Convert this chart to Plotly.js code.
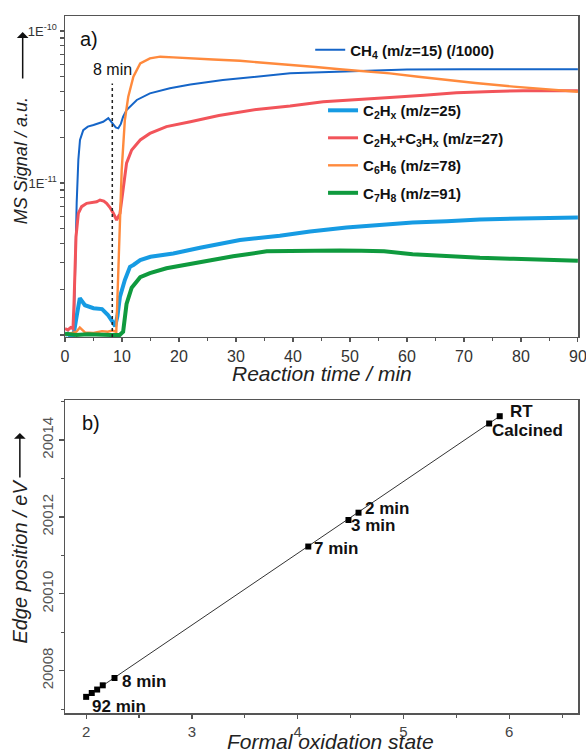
<!DOCTYPE html>
<html>
<head>
<meta charset="utf-8">
<script src="https://cdn.plot.ly/plotly-3.0.1.min.js"></script>
<style>html,body{margin:0;padding:0;background:#fff;}#chart{width:586px;height:751px;}</style>
</head>
<body>
<div id="chart"></div>
<script>
// ---------- Panel a) MS signals (values read off the picture) ----------
const ch4Time = [0, 1.0, 1.5, 1.75, 2.05, 2.34, 2.63, 3.2, 4.0, 5.0, 6.0, 6.7, 7.6, 8.3, 8.9, 9.35, 9.8, 10.2, 10.8, 12.6, 14.9, 18.4, 22, 27.7, 33, 39.5, 45, 50, 55, 60, 70, 80, 90];
const ch4Signal = [0.8e-12, 0.8e-12, 0.9e-12, 2.68e-12, 7.4e-12, 1.42e-11, 1.92e-11, 2.23e-11, 2.35e-11, 2.41e-11, 2.48e-11, 2.53e-11, 2.67e-11, 2.47e-11, 2.32e-11, 2.29e-11, 2.45e-11, 2.73e-11, 3.02e-11, 3.52e-11, 3.89e-11, 4.2e-11, 4.45e-11, 4.76e-11, 5.0e-11, 5.27e-11, 5.35e-11, 5.42e-11, 5.52e-11, 5.58e-11, 5.6e-11, 5.6e-11, 5.6e-11];

const c2Time = [0, 0.5, 1.0, 1.5, 2.0, 2.3, 2.6, 3.5, 5.0, 6.5, 7.5, 8.3, 8.8, 9.2, 9.65, 10.5, 11.4, 12.0, 13.2, 15.0, 19, 23.7, 30.7, 37.7, 43, 49.4, 55, 61, 67, 72.8, 80, 90];
const c2Signal = [1.0e-12, 1.02e-12, 0.98e-12, 1.0e-12, 1.3e-12, 1.6e-12, 1.75e-12, 1.57e-12, 1.5e-12, 1.48e-12, 1.36e-12, 1.23e-12, 1.14e-12, 1.33e-12, 1.79e-12, 2.3e-12, 2.81e-12, 2.89e-12, 3.11e-12, 3.27e-12, 3.44e-12, 3.75e-12, 4.22e-12, 4.5e-12, 4.8e-12, 5.1e-12, 5.3e-12, 5.5e-12, 5.6e-12, 5.75e-12, 5.85e-12, 5.92e-12];

const c23Time = [0, 0.5, 1.0, 1.4, 1.58, 1.93, 2.34, 2.92, 3.8, 4.8, 5.56, 6.14, 6.8, 7.3, 7.9, 8.48, 9.06, 9.65, 10.2, 10.8, 11.7, 13.2, 14.9, 17.8, 22, 27, 33.6, 39.5, 45.3, 51, 57, 63, 68.7, 75, 80.4, 90];
const c23Signal = [1.1e-12, 1.08e-12, 1.12e-12, 1.1e-12, 1.61e-12, 4.43e-12, 6.32e-12, 6.99e-12, 7.35e-12, 7.45e-12, 7.53e-12, 7.73e-12, 7.6e-12, 7.35e-12, 6.9e-12, 6.32e-12, 5.71e-12, 6.32e-12, 9.46e-12, 1.35e-11, 1.65e-11, 1.92e-11, 2.12e-11, 2.35e-11, 2.53e-11, 2.78e-11, 3.05e-11, 3.21e-11, 3.42e-11, 3.55e-11, 3.66e-11, 3.78e-11, 3.92e-11, 4.0e-11, 4.05e-11, 4.05e-11];

const c6Time = [0, 1, 2, 2.6, 3.5, 5, 6.5, 7.5, 8.3, 9.0, 9.5, 9.95, 10.5, 11.1, 12, 13.2, 14.9, 16.7, 19, 22, 26, 30.7, 35, 39.5, 44, 48.2, 52, 57, 62, 67, 72, 78.7, 84, 90];
const c6Signal = [1.0e-12, 1.02e-12, 1.05e-12, 1.12e-12, 1.04e-12, 1.03e-12, 1.06e-12, 1.05e-12, 1.07e-12, 1.05e-12, 3.44e-12, 1.22e-11, 2.59e-11, 3.7e-11, 5.0e-11, 6.12e-11, 6.61e-11, 6.78e-11, 6.71e-11, 6.6e-11, 6.5e-11, 6.37e-11, 6.2e-11, 5.96e-11, 5.8e-11, 5.6e-11, 5.45e-11, 5.27e-11, 5.0e-11, 4.76e-11, 4.55e-11, 4.31e-11, 4.15e-11, 3.99e-11];

const c7Time = [0, 2, 4, 6, 8, 9.6, 10.2, 10.8, 11.7, 13.2, 14.9, 17.8, 20, 23.7, 26, 29.5, 32, 35.4, 39.5, 44, 48.2, 52, 56, 61, 67, 72.8, 78.7, 84, 90];
const c7Signal = [1.02e-12, 1.0e-12, 1.01e-12, 1.0e-12, 1.0e-12, 1.0e-12, 1.05e-12, 1.6e-12, 2.05e-12, 2.4e-12, 2.55e-12, 2.75e-12, 2.85e-12, 3.0e-12, 3.1e-12, 3.3e-12, 3.4e-12, 3.55e-12, 3.57e-12, 3.6e-12, 3.6e-12, 3.58e-12, 3.55e-12, 3.4e-12, 3.3e-12, 3.22e-12, 3.17e-12, 3.12e-12, 3.08e-12];

const seriesNames = [
  'CH<sub>4</sub> (m/z=15) (/1000)',
  'C<sub>2</sub>H<sub>x</sub> (m/z=25)',
  'C<sub>2</sub>H<sub>x</sub>+C<sub>3</sub>H<sub>x</sub> (m/z=27)',
  'C<sub>6</sub>H<sub>6</sub> (m/z=78)',
  'C<sub>7</sub>H<sub>8</sub> (m/z=91)'
];
const markTime = 8.3;
const markLabel = '8 min';

// ---------- Panel b) edge position vs. oxidation state ----------
const oxState = [2.00, 2.053, 2.104, 2.157, 2.268, 4.10, 4.48, 4.575, 5.81, 5.91];
const edgePos = [20007.32, 20007.42, 20007.51, 20007.62, 20007.81, 20011.23, 20011.92, 20012.11, 20014.43, 20014.62];
const pointLabels = ['92 min', '', '', '', '8 min', '7 min', '3 min', '2 min', 'Calcined', 'RT'];
const fitX = [2.00, 5.91];
const fitY = [20007.32, 20014.62];

const majorLogVals = [1e-11, 1e-10];
const majorLogText = ['1E<sup>-11</sup>', '1E<sup>-10</sup>'];
const minorLogVals = [];
[-12, -11].forEach(function (e) {
  for (let m = 2; m <= 9; m++) minorLogVals.push(m * Math.pow(10, e));
});
minorLogVals.push(1e-12);

const FONT = 'Liberation Sans, Arial, sans-serif';
const AX = '#555';

const traces = [
  {x: ch4Time, y: ch4Signal, name: seriesNames[0], mode: 'lines', line: {color: '#1565c8', width: 2}, xaxis: 'x', yaxis: 'y', legend: 'legend'},
  {x: c2Time, y: c2Signal, name: seriesNames[1], mode: 'lines', line: {color: '#169be3', width: 4}, xaxis: 'x', yaxis: 'y', legend: 'legend2', legendgroup: 'g1'},
  {x: c23Time, y: c23Signal, name: seriesNames[2], mode: 'lines', line: {color: '#f2545a', width: 3}, xaxis: 'x', yaxis: 'y', legend: 'legend2', legendgroup: 'g2'},
  {x: c6Time, y: c6Signal, name: seriesNames[3], mode: 'lines', line: {color: '#ff8a3d', width: 2.4}, xaxis: 'x', yaxis: 'y', legend: 'legend2', legendgroup: 'g3'},
  {x: c7Time, y: c7Signal, name: seriesNames[4], mode: 'lines', line: {color: '#0f9a3e', width: 4}, xaxis: 'x', yaxis: 'y', legend: 'legend2', legendgroup: 'g4'},
  {x: fitX, y: fitY, mode: 'lines', line: {color: '#333', width: 1}, xaxis: 'x2', yaxis: 'y2', showlegend: false, hoverinfo: 'skip'},
  {x: oxState, y: edgePos, mode: 'markers', marker: {symbol: 'square', size: 6, color: '#000'}, xaxis: 'x2', yaxis: 'y2', showlegend: false}
];

const labelOffsets = {
  '92 min': {xs: 4, ys: -10},
  '8 min': {xs: 5, ys: -3},
  '7 min': {xs: 4, ys: -2},
  '3 min': {xs: 1, ys: -6},
  '2 min': {xs: 4, ys: 4},
  'Calcined': {xs: 1, ys: -7},
  'RT': {xs: 8, ys: 5}
};

const annotations = [
  {xref: 'paper', yref: 'paper', x: 0.025, y: 0.985, xanchor: 'left', yanchor: 'top', text: 'a)', showarrow: false, font: {family: FONT, size: 20, color: '#111'}},
  {xref: 'paper', yref: 'paper', x: 0.03, y: 0.435, xanchor: 'left', yanchor: 'top', text: 'b)', showarrow: false, font: {family: FONT, size: 20, color: '#111'}},
  {xref: 'x', yref: 'y domain', x: markTime, y: 0.80, xanchor: 'center', yanchor: 'bottom', text: markLabel, showarrow: false, font: {family: FONT, size: 16, color: '#111'}},
  {xref: 'paper', yref: 'paper', x: -0.086, y: 0.793, xanchor: 'center', yanchor: 'middle', textangle: -90, text: 'MS Signal / a.u.', showarrow: false, font: {family: FONT, size: 18, color: '#222', style: 'italic'}},
  {xref: 'paper', yref: 'paper', x: -0.0825, y: 0.977, ax: 0, ay: 48, axref: 'pixel', ayref: 'pixel', text: '', showarrow: true, arrowhead: 1, arrowsize: 1.3, arrowwidth: 1.5, arrowcolor: '#111'},
  {xref: 'paper', yref: 'paper', x: 0.5, y: 0.5065, xanchor: 'center', yanchor: 'top', text: 'Reaction time / min', showarrow: false, font: {family: FONT, size: 21, color: '#222', style: 'italic'}},
  {xref: 'paper', yref: 'paper', x: -0.088, y: 0.217, xanchor: 'center', yanchor: 'middle', textangle: -90, text: 'Edge position / eV', showarrow: false, font: {family: FONT, size: 20, color: '#222', style: 'italic'}},
  {xref: 'paper', yref: 'paper', x: -0.088, y: 0.4017, ax: 0, ay: 46, axref: 'pixel', ayref: 'pixel', text: '', showarrow: true, arrowhead: 1, arrowsize: 1.3, arrowwidth: 1.5, arrowcolor: '#111'},
  {xref: 'paper', yref: 'paper', x: 0.518, y: -0.0215, xanchor: 'center', yanchor: 'top', text: 'Formal oxidation state', showarrow: false, font: {family: FONT, size: 21, color: '#222', style: 'italic'}}
];
pointLabels.forEach(function (lab, i) {
  if (!lab) return;
  const o = labelOffsets[lab];
  annotations.push({xref: 'x2', yref: 'y2', x: oxState[i], y: edgePos[i], xanchor: 'left', yanchor: 'middle', xshift: o.xs, yshift: o.ys, text: '<b>' + lab + '</b>', showarrow: false, font: {family: FONT, size: 17, color: '#111'}});
});

const axisCommon = {
  showline: true, linecolor: AX, linewidth: 1.5, mirror: true,
  ticks: 'outside', ticklen: 5, tickwidth: 1.2, tickcolor: AX,
  showgrid: false, zeroline: false, ticklabeloverflow: 'allow',
  tickfont: {family: FONT, size: 16, color: '#333'}
};

const layout = {
  width: 586, height: 751,
  margin: {l: 65, r: 8, t: 16, b: 38},
  paper_bgcolor: '#fff', plot_bgcolor: '#fff',
  font: {family: FONT, color: '#222'},
  xaxis: Object.assign({}, axisCommon, {
    domain: [0, 1], anchor: 'y', range: [0, 90.02], dtick: 10, tick0: 0, ticklen: 4,
    minor: {dtick: 5, ticks: 'outside', ticklen: 3, tickcolor: AX, showgrid: false}
  }),
  yaxis: Object.assign({}, axisCommon, {
    domain: [0.5395, 1], anchor: 'x', type: 'log', range: [-12.013, -9.901],
    tickmode: 'array', tickvals: majorLogVals, ticktext: majorLogText, ticklen: 4,
    minor: {tickmode: 'array', tickvals: minorLogVals, ticks: 'outside', ticklen: 4, tickcolor: AX, showgrid: false},
    tickfont: {family: FONT, size: 13, color: '#333'}
  }),
  xaxis2: Object.assign({}, axisCommon, {
    domain: [0, 1], anchor: 'y2', range: [1.8, 6.65], dtick: 1, tick0: 0, ticklen: 4,
    minor: {dtick: 0.5, ticks: 'outside', ticklen: 3, tickcolor: AX, showgrid: false},
    tickfont: {family: FONT, size: 15, color: '#444'}
  }),
  yaxis2: Object.assign({}, axisCommon, {
    domain: [0, 0.449], anchor: 'x2', range: [20006.9, 20015.04], dtick: 2, tick0: 20008,
    tickformat: 'd', tickangle: -90,
    minor: {dtick: 1, ticks: 'outside', ticklen: 3, tickcolor: AX, showgrid: false},
    tickfont: {family: FONT, size: 15, color: '#555'}
  }),
  legend: {x: 0.478, y: 0.975, xanchor: 'left', yanchor: 'top', bgcolor: 'rgba(0,0,0,0)', borderwidth: 0,
    font: {family: FONT, size: 15, color: '#111', weight: 'bold'}},
  legend2: {x: 0.503, y: 0.888, xanchor: 'left', yanchor: 'top', bgcolor: 'rgba(0,0,0,0)', borderwidth: 0,
    tracegroupgap: 5, traceorder: 'grouped',
    font: {family: FONT, size: 15, color: '#111', weight: 'bold'}},
  shapes: [
    {type: 'line', xref: 'x', yref: 'y domain', x0: markTime, x1: markTime, y0: 0, y1: 0.79, line: {color: '#222', width: 1.5, dash: 'dot'}}
  ],
  annotations: annotations
};

Plotly.newPlot('chart', traces, layout, {displayModeBar: false, staticPlot: true});
</script>
</body>
</html>
